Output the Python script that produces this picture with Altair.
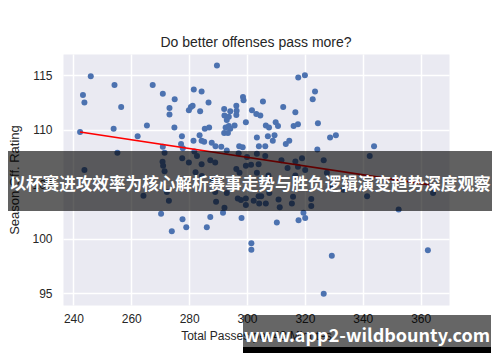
import altair as alt
import pandas as pd

# ---- data ----
passes = [
    246.0, 289.6, 317.7, 320.0,
    243.3, 243.8, 254.2, 267.4, 270.9, 281.6, 284.3, 275.0, 286.7, 298.6, 298.8, 305.5, 322.7, 323.5,
    256.5, 273.2, 273.2, 279.9, 280.6, 281.2, 283.8,
    292.1, 294.2, 292.2, 293.7, 296.3, 296.4, 296.3, 301.7, 303.2, 304.6, 312.5, 316.7,
    293.0, 292.6, 293.7, 294.2, 292.1, 293.4, 295.7, 299.6, 306.5, 307.6, 309.9, 310.7, 316.1, 317.6, 324.5,
    242.3, 253.9, 262.2, 265.4, 274.9, 285.4, 286.9, 277.5, 283.6, 303.4, 307.2, 309.5, 328.7, 330.7, 343.9,
    277.2, 277.8, 281.5, 284.3, 285.2, 287.8, 289.1, 291.1, 293.0, 297.3, 298.5, 304.1, 306.3, 308.9, 313.4, 314.6, 324.3, 270.9, 271.5,
    243.8, 255.2, 270.8, 271.0, 271.5, 272.3, 273.0, 264.2, 277.6, 279.9, 282.7, 281.8, 282.2, 284.3, 284.4,
    287.3, 289.0, 288.4, 289.0, 289.3, 292.2, 293.0, 296.3, 296.8, 297.4, 297.9, 297.1, 299.6, 299.6, 299.6,
    300.0, 301.4, 302.3, 303.4, 303.4, 304.0, 304.0, 304.9, 304.2, 306.3, 306.5, 307.4, 307.8, 307.7, 310.9,
    311.3, 311.9, 314.0, 315.5, 315.9, 316.7, 316.7, 317.6, 319.0, 320.1, 322.2, 322.2, 326.5, 327.6, 328.8,
    333.3, 341.5, 342.4, 352.4, 364.3,
    287.3, 286.1, 291.7, 298.1, 310.3, 317.8, 319.5, 320.1, 301.5, 301.5, 329.3, 326.5, 270.3, 277.7, 274.0,
    279.0, 362.5,
]
rating = [
    114.9, 115.9, 114.8, 115.0,
    113.2, 112.5, 114.1, 114.1, 113.3, 113.7, 113.5, 112.8, 112.5, 113.0, 112.7, 112.6, 112.8, 113.5,
    112.1, 112.0, 111.4, 111.8, 112.1, 112.2, 111.7,
    111.9, 111.7, 111.3, 111.2, 112.2, 111.75, 111.35, 111.8, 111.45, 111.3, 112.1, 111.6,
    110.9, 110.2, 110.35, 110.1, 109.7, 109.7, 110.4, 110.7, 110.4, 110.2, 110.7, 110.35, 110.35, 110.5, 110.6,
    109.8, 110.1, 109.4, 110.4, 110.2, 110.1, 110.2, 109.4, 109.5, 109.3, 109.4, 109.5, 109.3, 109.5, 108.5,
    108.7, 108.3, 109.0, 109.0, 108.9, 108.8, 108.5, 108.45, 108.1, 108.5, 108.4, 108.5, 108.5, 109.0, 108.7, 109.0, 108.2, 108.45, 107.9,
    106.3, 107.9, 107.07, 106.7, 106.2, 104.3, 103.5, 103.95, 107.4, 107.0, 107.6, 108.0, 106.1, 106.85, 105.75,
    107.2, 107.0, 105.4, 104.3, 103.4, 102.85, 104.2, 106.4, 103.7, 106.06, 103.55, 107.84, 106.7, 103.7, 103.1,
    107.5, 106.8, 103.5, 107.8, 106.06, 106.85, 103.9, 103.9, 103.25, 107.6, 103.25, 105.8, 105.4, 104.2, 103.6,
    102.9, 107.2, 106.5, 103.25, 103.85, 107.1, 105.8, 106.6, 107.4, 106.3, 103.65, 103.0, 107.2, 106.06, 104.9,
    104.5, 103.9, 107.6, 102.7, 104.2,
    102.0, 101.05, 102.4, 101.9, 101.5, 101.7, 102.4, 101.9, 99.6, 99.0, 98.45, 94.96, 102.3, 101.8, 100.7,
    101.05, 98.94,
]
fit_x = [242.3, 364.3]
fit_y = [109.8, 104.9]

x_ticks = [240, 260, 280, 300, 320, 340, 360]
y_ticks = [95, 100, 105, 110, 115]
x_domain = [236.4, 369.8]
y_domain = [93.93, 116.95]

chart_title = "Do better offenses pass more?"
x_title = "Total Passes per 48 Minutes"
y_title = "Season Off. Rating"
banner_cn = ["以杯赛进攻效率为核心解析赛事走势与胜负逻辑演变趋势深度观察"]
banner_url = ["www.app2-wildbounty.com"]

pts = pd.DataFrame({"passes": passes, "rating": rating})
fit = pd.DataFrame({"passes": fit_x, "rating": fit_y})
cn_df = pd.DataFrame({"t": banner_cn})
url_df = pd.DataFrame({"t": banner_url})

FONT = "Liberation Sans"
TXT = "#262626"

x_enc = alt.X(
    "passes:Q",
    scale=alt.Scale(domain=x_domain, nice=False, zero=False),
    axis=alt.Axis(values=x_ticks, title=x_title, labelPadding=8, titlePadding=6),
)
y_enc = alt.Y(
    "rating:Q",
    scale=alt.Scale(domain=y_domain, nice=False, zero=False),
    axis=alt.Axis(values=y_ticks, title=y_title, labelPadding=11, titlePadding=10,
                  titleFontSize=13),
)

points = alt.Chart(pts).mark_circle(size=36, color="#4C72B0", opacity=1).encode(x=x_enc, y=y_enc)
line = alt.Chart(fit).mark_line(color="#FF0000", strokeWidth=1.6).encode(
    x=alt.X("passes:Q"), y=alt.Y("rating:Q"))

cn_rect = alt.Chart(cn_df).mark_rect(color="#000000", opacity=0.62).encode(
    x=alt.value(-55), x2=alt.value(434), y=alt.value(97), y2=alt.value(157))
cn_text = alt.Chart(cn_df).mark_text(
    font="Noto Sans CJK SC", fontWeight="bold", fontSize=16.6, color="white",
    align="center", baseline="middle").encode(
    x=alt.value(187), y=alt.value(130.5), text="t:N")

url_rect = alt.Chart(url_df).mark_rect(color="#000000", opacity=0.6).encode(
    x=alt.value(180), x2=alt.value(428), y=alt.value(261), y2=alt.value(293))
url_strip = alt.Chart(url_df).mark_rect(color="#000000", opacity=1).encode(
    x=alt.value(180), x2=alt.value(428), y=alt.value(293), y2=alt.value(299))
url_text = alt.Chart(url_df).mark_text(
    font="Noto Sans CJK SC", fontWeight="bold", fontSize=18, color="white",
    align="center", baseline="alphabetic").encode(
    x=alt.value(304), y=alt.value(288), text="t:N")

chart = alt.layer(
    points, line, cn_rect, cn_text, url_rect, url_strip, url_text
).properties(
    width=386,
    height=251,
    autosize=alt.AutoSizeParams(type="none"),
    padding={"left": 55, "top": 46, "right": 43, "bottom": 48},
    title=alt.TitleParams(text=chart_title, fontSize=14, font=FONT, color=TXT,
                          fontWeight="normal", anchor="middle", frame="group", offset=4),
).configure_view(
    fill="#EAEAF2", stroke="transparent"
).configure_axis(
    grid=True, gridColor="white", gridWidth=1.5, domain=False, ticks=False, tickSize=0,
    labelFont=FONT, labelFontSize=12, labelColor=TXT,
    titleFont=FONT, titleFontSize=12, titleColor=TXT, titleFontWeight="normal",
)

chart.save("out.html", embed_options={"renderer": "svg", "actions": False})
